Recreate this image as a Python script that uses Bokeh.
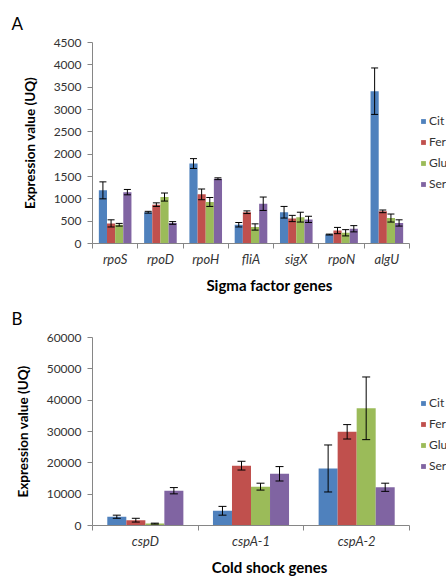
from bokeh.plotting import figure
from bokeh.layouts import column
from bokeh.models import (ColumnDataSource, Range1d, LinearAxis,
                          FixedTicker, Whisker, TeeHead, Legend, LegendItem)
from bokeh.embed import file_html
from bokeh.resources import INLINE

series = ["Cit", "Fer", "Glu", "Ser"]
colors = ["#4F81BD", "#C0504D", "#9BBB59", "#8064A2"]

# Panel A: sigma factor genes
genes_a = ["rpoS", "rpoD", "rpoH", "fliA", "sigX", "rpoN", "algU"]
cit_a = [1190, 700, 1790, 420, 700, 200, 3410]
fer_a = [450, 870, 1100, 700, 560, 290, 720]
glu_a = [420, 1040, 930, 370, 590, 240, 570]
ser_a = [1150, 460, 1450, 890, 540, 330, 460]
cit_a_err = [190, 20, 110, 50, 130, 10, 520]
fer_a_err = [80, 40, 120, 30, 70, 70, 30]
glu_a_err = [30, 90, 100, 70, 110, 70, 90]
ser_a_err = [60, 30, 20, 150, 70, 70, 70]

# Panel B: cold shock genes
genes_b = ["cspD", "cspA-1", "cspA-2"]
cit_b = [2800, 4700, 18200]
fer_b = [1700, 19100, 29900]
glu_b = [600, 12400, 37400]
ser_b = [11100, 16500, 12200]
cit_b_err = [500, 1400, 7500]
fer_b_err = [600, 1400, 2300]
glu_b_err = [150, 1100, 10000]
ser_b_err = [1000, 2300, 1300]

FONT = "Lato"
TXT = "#333333"
AX = "#868686"


def panel(letter, genes, vals, errs, ymax, ystep, xtitle, height, top, tee):
    n = len(genes)
    # plotting area runs to the right edge; categories use the first 317 px
    p = figure(x_range=Range1d(0, n * 354 / 317), y_range=Range1d(0, ymax),
               width=446, height=height,
               min_border_left=92, min_border_right=0, min_border_top=top,
               min_border_bottom=height - top - 202,
               x_axis_location=None, y_axis_location="left",
               output_backend="svg", toolbar_location=None,
               background_fill_color="white", border_fill_color="white")
    p.outline_line_color = None
    p.xgrid.visible = False
    p.ygrid.visible = False

    p.title.text = letter
    p.title.text_font = FONT
    p.title.text_font_size = "17px"
    p.title.text_font_style = "normal"
    p.title.text_color = "black"
    p.title.align = "left"
    p.title.offset = -81
    p.title.standoff = 18

    ya = p.yaxis[0]
    ya.ticker = FixedTicker(ticks=list(range(0, ymax + 1, ystep)))
    ya.axis_line_color = AX
    ya.major_tick_line_color = AX
    ya.major_tick_in = 0
    ya.major_tick_out = 5
    ya.minor_tick_line_color = None
    ya.major_label_text_font = FONT
    ya.major_label_text_font_size = "12px"
    ya.major_label_text_color = TXT
    ya.major_label_standoff = 6
    ya.axis_label = "Expression value (UQ)"
    ya.axis_label_text_font = FONT
    ya.axis_label_text_font_style = "bold"
    ya.axis_label_text_font_size = "13.5px"
    ya.axis_label_text_color = "black"
    ya.axis_label_standoff = 13

    # axis line with tick marks at category boundaries
    bx = LinearAxis(ticker=FixedTicker(ticks=list(range(n + 1))), bounds=(0, n))
    bx.axis_line_color = AX
    bx.major_tick_line_color = AX
    bx.major_tick_in = 0
    bx.major_tick_out = 5
    bx.minor_tick_line_color = None
    bx.major_label_text_font_size = "1px"
    bx.major_label_text_color = None
    bx.major_label_standoff = 0
    p.add_layout(bx, "below")

    # category labels at category centres
    centers = [i + 0.5 for i in range(n)]
    cx = LinearAxis(ticker=FixedTicker(ticks=centers), bounds=(0, n),
                    major_label_overrides={c: g for c, g in zip(centers, genes)})
    cx.axis_line_color = None
    cx.major_tick_line_color = None
    cx.minor_tick_line_color = None
    cx.major_label_text_font = FONT
    cx.major_label_text_font_style = "italic"
    cx.major_label_text_font_size = "13px"
    cx.major_label_text_color = TXT
    cx.major_label_standoff = -4
    cx.axis_label = xtitle
    cx.axis_label_text_font = FONT
    cx.axis_label_text_font_style = "bold"
    cx.axis_label_text_font_size = "15px"
    cx.axis_label_text_color = "black"
    cx.axis_label_standoff = 6
    p.add_layout(cx, "below")

    bw = 0.18
    offsets = [-1.5 * bw, -0.5 * bw, 0.5 * bw, 1.5 * bw]
    items = []
    for name, col, v, e, off in zip(series, colors, vals, errs, offsets):
        xs = [c + off for c in centers]
        src = ColumnDataSource(dict(x=xs, v=v,
                                    lo=[a - b for a, b in zip(v, e)],
                                    up=[a + b for a, b in zip(v, e)]))
        r = p.vbar(x="x", top="v", width=bw,
                   source=src, fill_color=col, line_color=None)
        w = Whisker(source=src, base="x", level="overlay",
                    lower="lo", upper="up", line_color="black", line_width=1,
                    upper_head=TeeHead(size=tee, line_color="black", line_width=1),
                    lower_head=TeeHead(size=tee, line_color="black", line_width=1))
        p.add_layout(w)
        items.append(LegendItem(label=name, renderers=[r]))

    leg = Legend(items=items, location=(328, 52), orientation="vertical",
                 background_fill_alpha=0, border_line_color=None,
                 label_text_font=FONT, label_text_font_size="12px",
                 label_text_color=TXT, glyph_width=6, glyph_height=6,
                 label_standoff=3, spacing=6, padding=0, margin=0,
                 label_height=13)
    p.add_layout(leg, "center")
    return p


pa = panel("A", genes_a, [cit_a, fer_a, glu_a, ser_a],
           [cit_a_err, fer_a_err, glu_a_err, ser_a_err],
           4500, 500, "Sigma factor genes", 296, 42, 7)
pb = panel("B", genes_b, [cit_b, fer_b, glu_b, ser_b],
           [cit_b_err, fer_b_err, glu_b_err, ser_b_err],
           60000, 10000, "Cold shock genes", 282, 33, 8)

layout = column(pa, pb, spacing=0)
open("out.html", "w").write(file_html(layout, INLINE))
